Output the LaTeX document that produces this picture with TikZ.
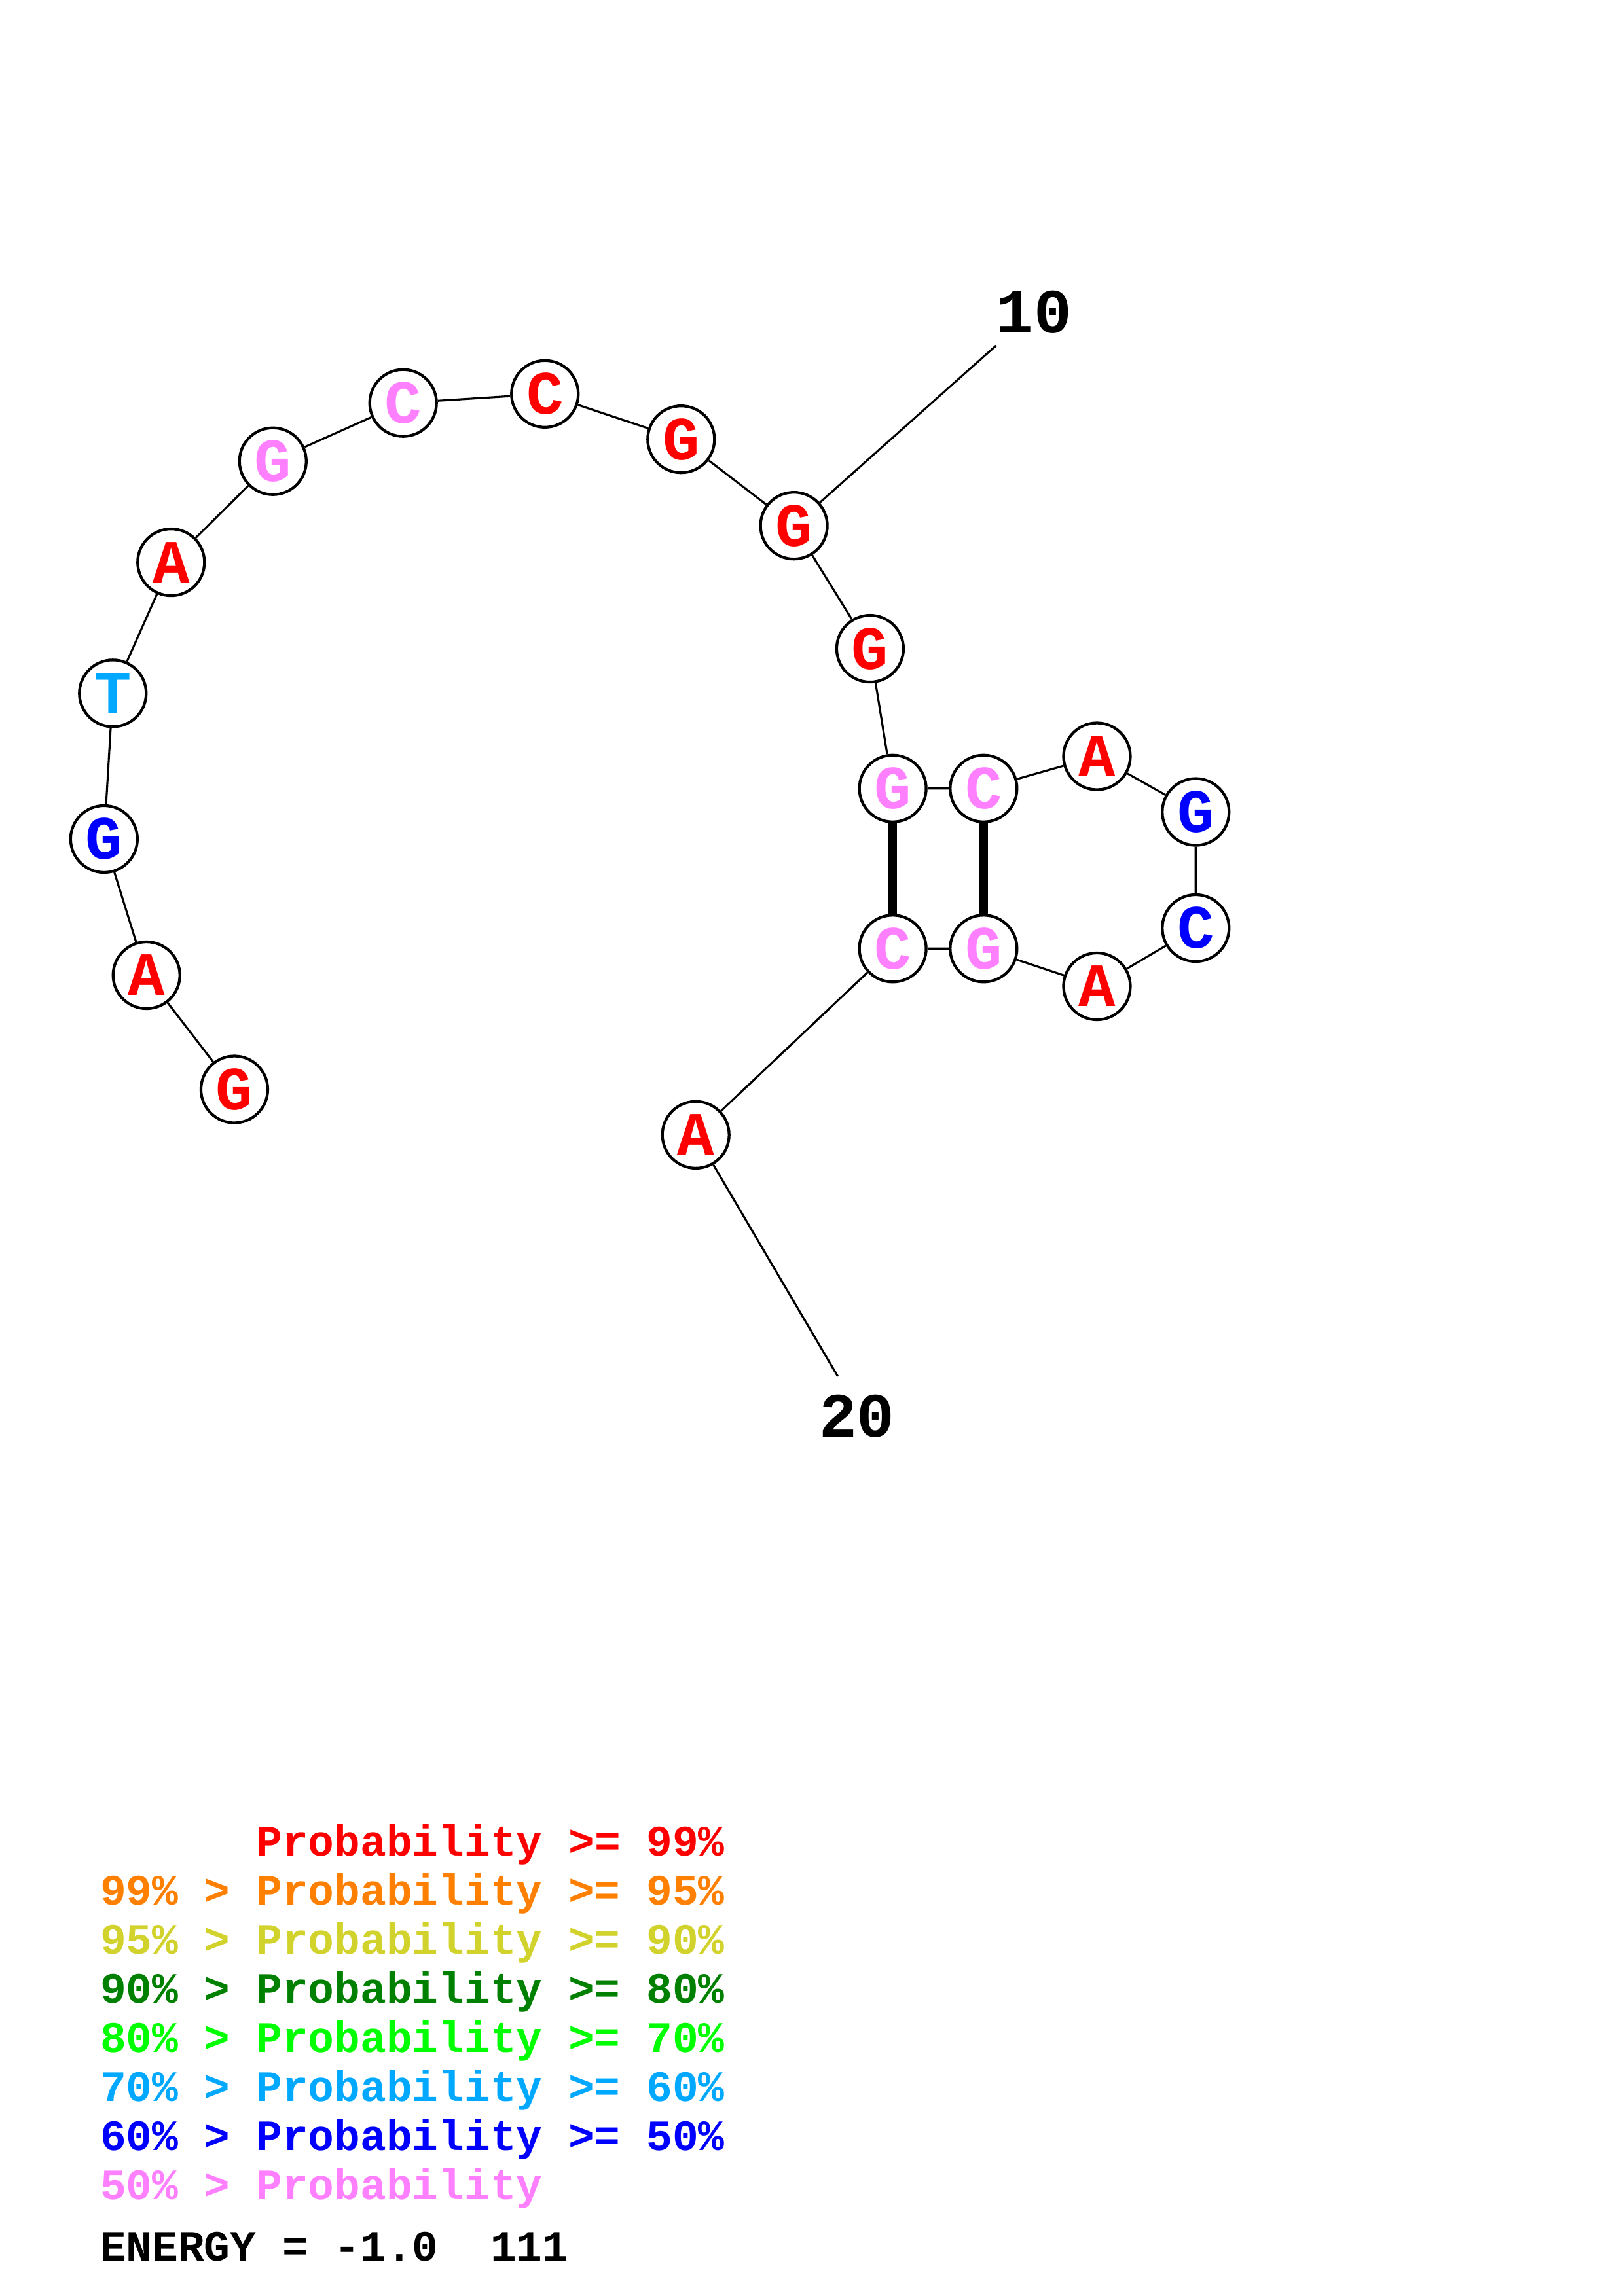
\documentclass[tikz,border=0pt]{standalone}
\usepackage{fontspec}
\setmonofont{Liberation Mono}
\definecolor{cR}{HTML}{FF0000}
\definecolor{cO}{HTML}{FF8000}
\definecolor{cY}{HTML}{D2D22D}
\definecolor{cDG}{HTML}{008000}
\definecolor{cG}{HTML}{00FF00}
\definecolor{cLB}{HTML}{00A8FF}
\definecolor{cB}{HTML}{0000FF}
\definecolor{cP}{HTML}{FF80FF}
\begin{document}
\begin{tikzpicture}[x=0.5pt,y=-0.5pt,
  base/.style={circle,draw=black,line width=0.95pt,fill=white,minimum size=22.8pt,inner sep=0pt,
    font=\ttfamily\bfseries\fontsize{21}{21}\selectfont},
  link/.style={line width=0.7pt},
  pair/.style={line width=2.8pt},
  numlab/.style={inner sep=0pt,font=\ttfamily\bfseries\fontsize{21.5}{21.5}\selectfont},
  leg/.style={anchor=base west,inner sep=0pt,font=\ttfamily\bfseries\fontsize{14.8}{14.8}\selectfont}]
\useasboundingbox (0,0) rectangle (1108,1568);
% connector free ends
\coordinate (e10) at (680,236);
\coordinate (e20) at (572,940);
\node[base,text=cR]  (n1)  at (160,744) {G};
\node[base,text=cR]  (n2)  at (100,666) {A};
\node[base,text=cB]  (n3)  at (71,573) {G};
\node[base,text=cLB] (n4)  at (77,473.5) {T};
\node[base,text=cR]  (n5)  at (116.8,384) {A};
\node[base,text=cP]  (n6)  at (186.3,315) {G};
\node[base,text=cP]  (n7)  at (275.2,275.2) {C};
\node[base,text=cR]  (n8)  at (372,269) {C};
\node[base,text=cR]  (n9)  at (465,300) {G};
\node[base,text=cR]  (n10) at (542,359) {G};
\node[base,text=cR]  (n11) at (594,443) {G};
\node[base,text=cP]  (n12) at (609.5,538.5) {G};
\node[base,text=cP]  (n13) at (671.5,538.5) {C};
\node[base,text=cR]  (n14) at (748.9,516.5) {A};
\node[base,text=cB]  (n15) at (816.3,554.5) {G};
\node[base,text=cB]  (n16) at (816.3,633.8) {C};
\node[base,text=cR]  (n17) at (748.9,673.6) {A};
\node[base,text=cP]  (n18) at (671.5,647.8) {G};
\node[base,text=cP]  (n19) at (609.5,647.8) {C};
\node[base,text=cR]  (n20) at (475,775) {A};
\draw[link] (n1) -- (n2) -- (n3) -- (n4) -- (n5) -- (n6) -- (n7) -- (n8) -- (n9) -- (n10) -- (n11) -- (n12) -- (n13) -- (n14) -- (n15) -- (n16) -- (n17) -- (n18) -- (n19) -- (n20);
\draw[link] (n10) -- (e10);
\draw[link] (n20) -- (e20);
\draw[pair] (n12) -- (n19);
\draw[pair] (n13) -- (n18);
\node[numlab] (l10) at (706,213) {10};
\node[numlab] (l20) at (585,967) {20};
% legend
\node[leg,text=cR]  (r1) at (68,1267.5) {\phantom{99\% > }Probability >= 99\%};
\node[leg,text=cO]  (r2) at (68,1301) {99\% > Probability >= 95\%};
\node[leg,text=cY]  (r3) at (68,1334.5) {95\% > Probability >= 90\%};
\node[leg,text=cDG] (r4) at (68,1368) {90\% > Probability >= 80\%};
\node[leg,text=cG]  (r5) at (68,1401.5) {80\% > Probability >= 70\%};
\node[leg,text=cLB] (r6) at (68,1435) {70\% > Probability >= 60\%};
\node[leg,text=cB]  (r7) at (68,1468.5) {60\% > Probability >= 50\%};
\node[leg,text=cP]  (r8) at (68,1502) {50\% > Probability};
\node[leg,text=black] (en) at (68,1544) {ENERGY = -1.0\ \ 111};
\end{tikzpicture}
\end{document}
